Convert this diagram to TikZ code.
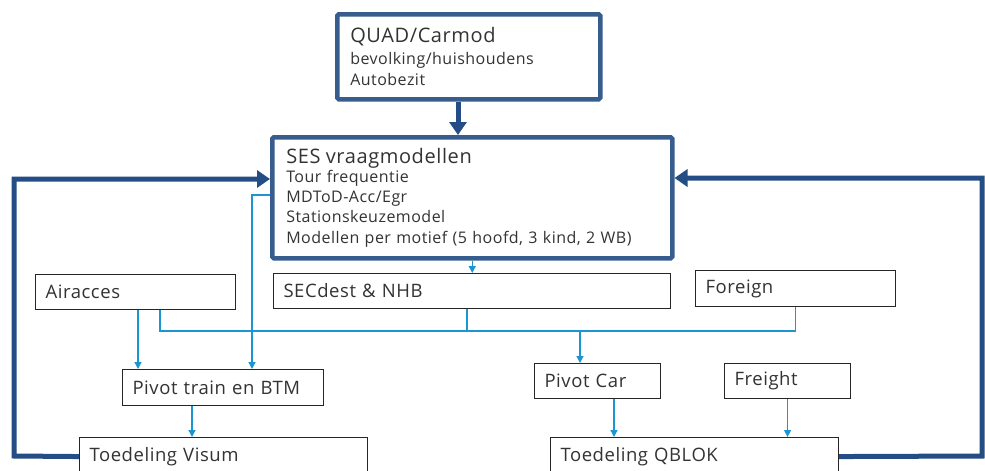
\documentclass[tikz,border=0pt]{standalone}
\usepackage{fontspec}
\setmainfont{Open Sans}[LetterSpace=3]
\usetikzlibrary{arrows.meta}
\definecolor{darkb}{HTML}{234D84}
\definecolor{boxb}{HTML}{375D8E}
\definecolor{lightb}{HTML}{1C95D3}
\definecolor{txt}{HTML}{333333}
\tikzset{
  bigbox/.style={draw=boxb, line width=4.5pt, fill=white, rounded corners=1.5pt, anchor=north west, align=left, inner xsep=0pt, inner ysep=0pt, text=txt},
  smallbox/.style={draw=black!85, line width=1.1pt, fill=white, anchor=north west, align=left, inner xsep=10pt, inner ysep=0pt, text=txt, font=\fontsize{18.5}{20}\selectfont},
  thickarrow/.style={draw=darkb, line width=5pt, -{Triangle[length=13pt,width=17pt]}},
  thickline/.style={draw=darkb, line width=5pt},
  bluearrow/.style={draw=lightb, line width=1.3pt, -{Triangle[length=7pt,width=7pt]}},
  blueline/.style={draw=lightb, line width=1.3pt},
}
\begin{document}
\begin{tikzpicture}[x=1pt,y=-1pt]
\useasboundingbox (0,0) rectangle (985,471);
% big boxes
\node[bigbox, minimum width=250pt, minimum height=85pt, text width=237pt, inner xsep=13pt, font=\fontsize{16}{21}\selectfont] (quad) at (335,12)
 {{\fontsize{20}{21}\selectfont QUAD/Carmod}\\[1pt]
  bevolking/huishoudens\\ Autobezit};
\node[bigbox, minimum width=387pt, minimum height=121pt, text width=372pt, inner xsep=14pt, font=\fontsize{16}{20}\selectfont] (ses) at (270,135)
 {{\fontsize{20}{21}\selectfont SES vraagmodellen}\\[-1pt]
  Tour frequentie\\ MDToD-Acc/Egr\\ Stationskeuzemodel\\[1pt] Modellen per motief (5 hoofd, 3 kind, 2 WB)};
% small boxes
\node[smallbox, minimum width=200pt, minimum height=35pt, text width=180pt] (air) at (35,274) {Airacces};
\node[smallbox, minimum width=397pt, minimum height=35pt, text width=377pt] (secd) at (273,273) {SECdest \& NHB};
\node[smallbox, minimum width=200pt, minimum height=36pt, text width=180pt] (foreign) at (695,270) {Foreign};
\node[smallbox, minimum width=201pt, minimum height=36pt, text width=181pt] (ptrain) at (122,369) {Pivot train en BTM};
\node[smallbox, minimum width=126pt, minimum height=35pt, text width=106pt] (pcar) at (534,363) {Pivot Car};
\node[smallbox, minimum width=126pt, minimum height=35pt, text width=106pt] (freight) at (724,363) {Freight};
\node[smallbox, minimum width=288pt, minimum height=38pt, text width=268pt] (visum) at (79,437) {Toedeling Visum};
\node[smallbox, minimum width=288pt, minimum height=38pt, text width=268pt] (qblok) at (550,437) {Toedeling QBLOK};
% thick connectors
\draw[thickarrow] (quad.south -| 458,0) -- (ses.north -| 458,0);
\draw[thickarrow] (visum.west) -- (14,456) -- (14,179) -- (ses.west |- 0,179);
\draw[thickarrow] (qblok.east) -- (982,456) -- (982,178) -- (ses.east |- 0,178);
% thin connectors
\draw[bluearrow] (ses.south) -- (ses.south |- secd.north);
\draw[bluearrow] (ses.west |- 0,195) -| (ptrain.north -| 252,0);
\draw[bluearrow] (air.south -| 138,0) -- (ptrain.north -| 138,0);
\draw[blueline] (air.south -| 160,0) |- (foreign.south |- 0,331) -- (foreign.south);
\draw[blueline] (secd.south -| 467,0) -- (467,331);
\draw[bluearrow] (580,331) -- (pcar.north -| 580,0);
\draw[bluearrow] (ptrain.south -| 192,0) -- (visum.north -| 192,0);
\draw[bluearrow] (pcar.south -| 614,0) -- (qblok.north -| 614,0);
\draw[bluearrow] (freight.south) -- (qblok.north -| freight.south);
\end{tikzpicture}
\end{document}
